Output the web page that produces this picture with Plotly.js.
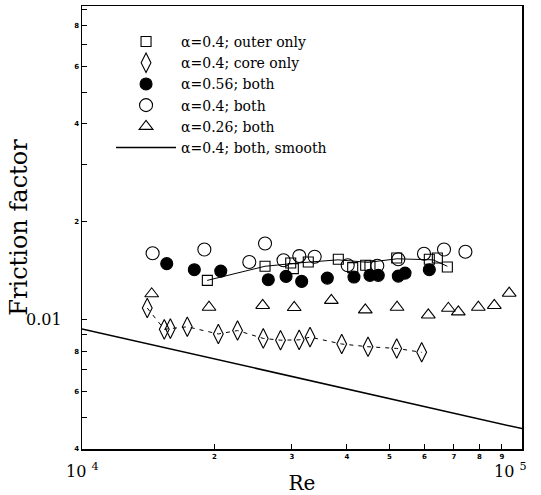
<!DOCTYPE html>
<html>
<head>
<meta charset="utf-8">
<script src="https://cdn.plot.ly/plotly-3.0.1.min.js"></script>
<style>html,body{margin:0;padding:0;background:#fff;}#chart{width:541px;height:495px;}</style>
</head>
<body>
<div id="chart"></div>
<script>
// alpha=0.4; outer only (squares)
const reOuter = [19270, 26060, 29810, 30220, 32680, 38240, 41230, 44130, 45130, 51910, 61570, 64210, 67660];
const fOuter  = [0.01319, 0.01458, 0.01492, 0.01434, 0.01502, 0.01532, 0.01444, 0.01468, 0.01463, 0.01546, 0.01532, 0.01546, 0.01450];
// fitted curve through the outer-only data
const reOuterFit = [19250, 26060, 31290, 38180, 44670, 52000, 62780, 67660];
const fOuterFit  = [0.01319, 0.01458, 0.01494, 0.01526, 0.01499, 0.01537, 0.01526, 0.01458];
// alpha=0.4; core only (diamonds, dashed)
const reCore = [14070, 15380, 15880, 17350, 20410, 22570, 25820, 28260, 31160, 32980, 38930, 44670, 51910, 59160];
const fCore  = [0.01085, 0.00933, 0.00938, 0.00950, 0.00903, 0.00925, 0.00875, 0.00864, 0.00866, 0.00883, 0.00841, 0.00825, 0.00815, 0.00793];
// alpha=0.56; both (filled circles)
const reA056 = [15580, 18000, 20670, 26510, 29090, 31570, 36100, 41510, 45130, 47140, 52350, 54220, 61570];
const fA056  = [0.01485, 0.01423, 0.01409, 0.01326, 0.01357, 0.01310, 0.01341, 0.01351, 0.01367, 0.01367, 0.01360, 0.01389, 0.01423];
// alpha=0.4; both (open circles)
const reA04 = [14470, 18970, 24000, 26060, 28710, 31180, 33790, 40170, 46900, 52350, 59880, 66490, 74370];
const fA04  = [0.01599, 0.01641, 0.01502, 0.01713, 0.01521, 0.01567, 0.01559, 0.01468, 0.01463, 0.01532, 0.01593, 0.01641, 0.01616];
// alpha=0.26; both (triangles)
const reA026 = [14400, 19440, 25740, 30360, 36870, 44040, 52000, 61240, 68020, 71660, 79570, 86500, 93520];
const fA026  = [0.01200, 0.01091, 0.01105, 0.01089, 0.01145, 0.01071, 0.01091, 0.01033, 0.01083, 0.01056, 0.01091, 0.01105, 0.01205];
// alpha=0.4; both, smooth (line)
const reSmooth = [10000, 100000];
const fSmooth  = [0.00936, 0.00462];

const seriesNames = ["α=0.4; outer only", "α=0.4; core only", "α=0.56; both", "α=0.4; both", "α=0.26; both", "α=0.4; both, smooth"];

const xTickVals = [20000, 30000, 40000, 50000, 60000, 70000, 80000, 90000];
const xTickText = ["2", "3", "4", "5", "6", "7", "8", "9"];
const yTickVals = [0.004, 0.006, 0.008, 0.02, 0.04, 0.06, 0.08];
const yTickText = ["4", "6", "8", "2", "4", "6", "8"];
const yMinorVals = [0.005, 0.007, 0.009, 0.01, 0.03, 0.05, 0.07, 0.09];

const serif = "DejaVu Serif, Liberation Serif, serif";
const mk = (sym, size, fill) => ({symbol: sym, size: size, color: fill || "black", line: {color: "black", width: 1.1}});

const traces = [
  {x: reOuter, y: fOuter, mode: "markers", name: seriesNames[0], marker: mk("square-open", 10)},
  {x: reCore, y: fCore, mode: "markers", name: seriesNames[1], marker: mk("diamond-tall-open", 14)},
  {x: reA056, y: fA056, mode: "markers", name: seriesNames[2], marker: mk("circle", 12)},
  {x: reA04, y: fA04, mode: "markers", name: seriesNames[3], marker: mk("circle-open", 13)},
  {x: reA026, y: fA026, mode: "markers", name: seriesNames[4], marker: mk("triangle-up-open", 12)},
  {x: reSmooth, y: fSmooth, mode: "lines", name: seriesNames[5], line: {color: "black", width: 1.5}},
  {x: reOuterFit, y: fOuterFit, mode: "lines", showlegend: false, line: {color: "black", width: 1}},
  {x: reCore, y: fCore, mode: "lines", showlegend: false, line: {color: "black", width: 1, dash: "4px,5px"}}
];

const layout = {
  width: 541, height: 495,
  margin: {l: 82, r: 19, t: 6, b: 46},
  paper_bgcolor: "white", plot_bgcolor: "white",
  showlegend: true,
  legend: {x: 0.066, y: 0.955, xanchor: "left", yanchor: "top", bgcolor: "rgba(0,0,0,0)",
           font: {family: serif, size: 14, color: "black"}, itemwidth: 60, tracegroupgap: 0},
  xaxis: {type: "log", range: [4, 5], showgrid: false, zeroline: false,
          showline: true, mirror: true, linecolor: "black", linewidth: 1.5,
          ticks: "inside", ticklen: 5, tickcolor: "black", tickwidth: 1,
          tickvals: xTickVals, ticktext: xTickText,
          tickfont: {family: "DejaVu Sans, sans-serif", size: 7, color: "black", weight: "bold"},
          title: {text: "Re", font: {family: serif, size: 20, color: "black"}, standoff: 18}},
  yaxis: {type: "log", range: [Math.log10(0.004), Math.log10(0.092)], showgrid: false, zeroline: false,
          showline: true, mirror: true, linecolor: "black", linewidth: 1.5,
          ticks: "inside", ticklen: 5, tickcolor: "black", tickwidth: 1,
          tickvals: yTickVals, ticktext: yTickText,
          minor: {tickvals: yMinorVals, ticks: "inside", ticklen: 5, tickcolor: "black", tickwidth: 1, showgrid: false},
          tickfont: {family: "DejaVu Sans, sans-serif", size: 7, color: "black", weight: "bold"},
          title: {text: "Friction factor", font: {family: serif, size: 24, color: "black"}, standoff: 40}},
  annotations: [
    {xref: "paper", yref: "y", x: -0.04, y: -2, text: "0.01", showarrow: false, xanchor: "right", yanchor: "middle",
     font: {family: serif, size: 16, color: "black"}},
    {xref: "x", yref: "paper", x: 4, y: -0.02, text: "10 <sup>4</sup>", showarrow: false, xanchor: "center", yanchor: "top",
     font: {family: serif, size: 16, color: "black"}},
    {xref: "x", yref: "paper", x: 5, y: -0.02, text: "10 <sup>5</sup>", showarrow: false, xanchor: "right", yanchor: "top",
     xshift: 7, font: {family: serif, size: 16, color: "black"}}
  ]
};

Plotly.newPlot("chart", traces, layout, {displayModeBar: false, staticPlot: true});
</script>
</body>
</html>
